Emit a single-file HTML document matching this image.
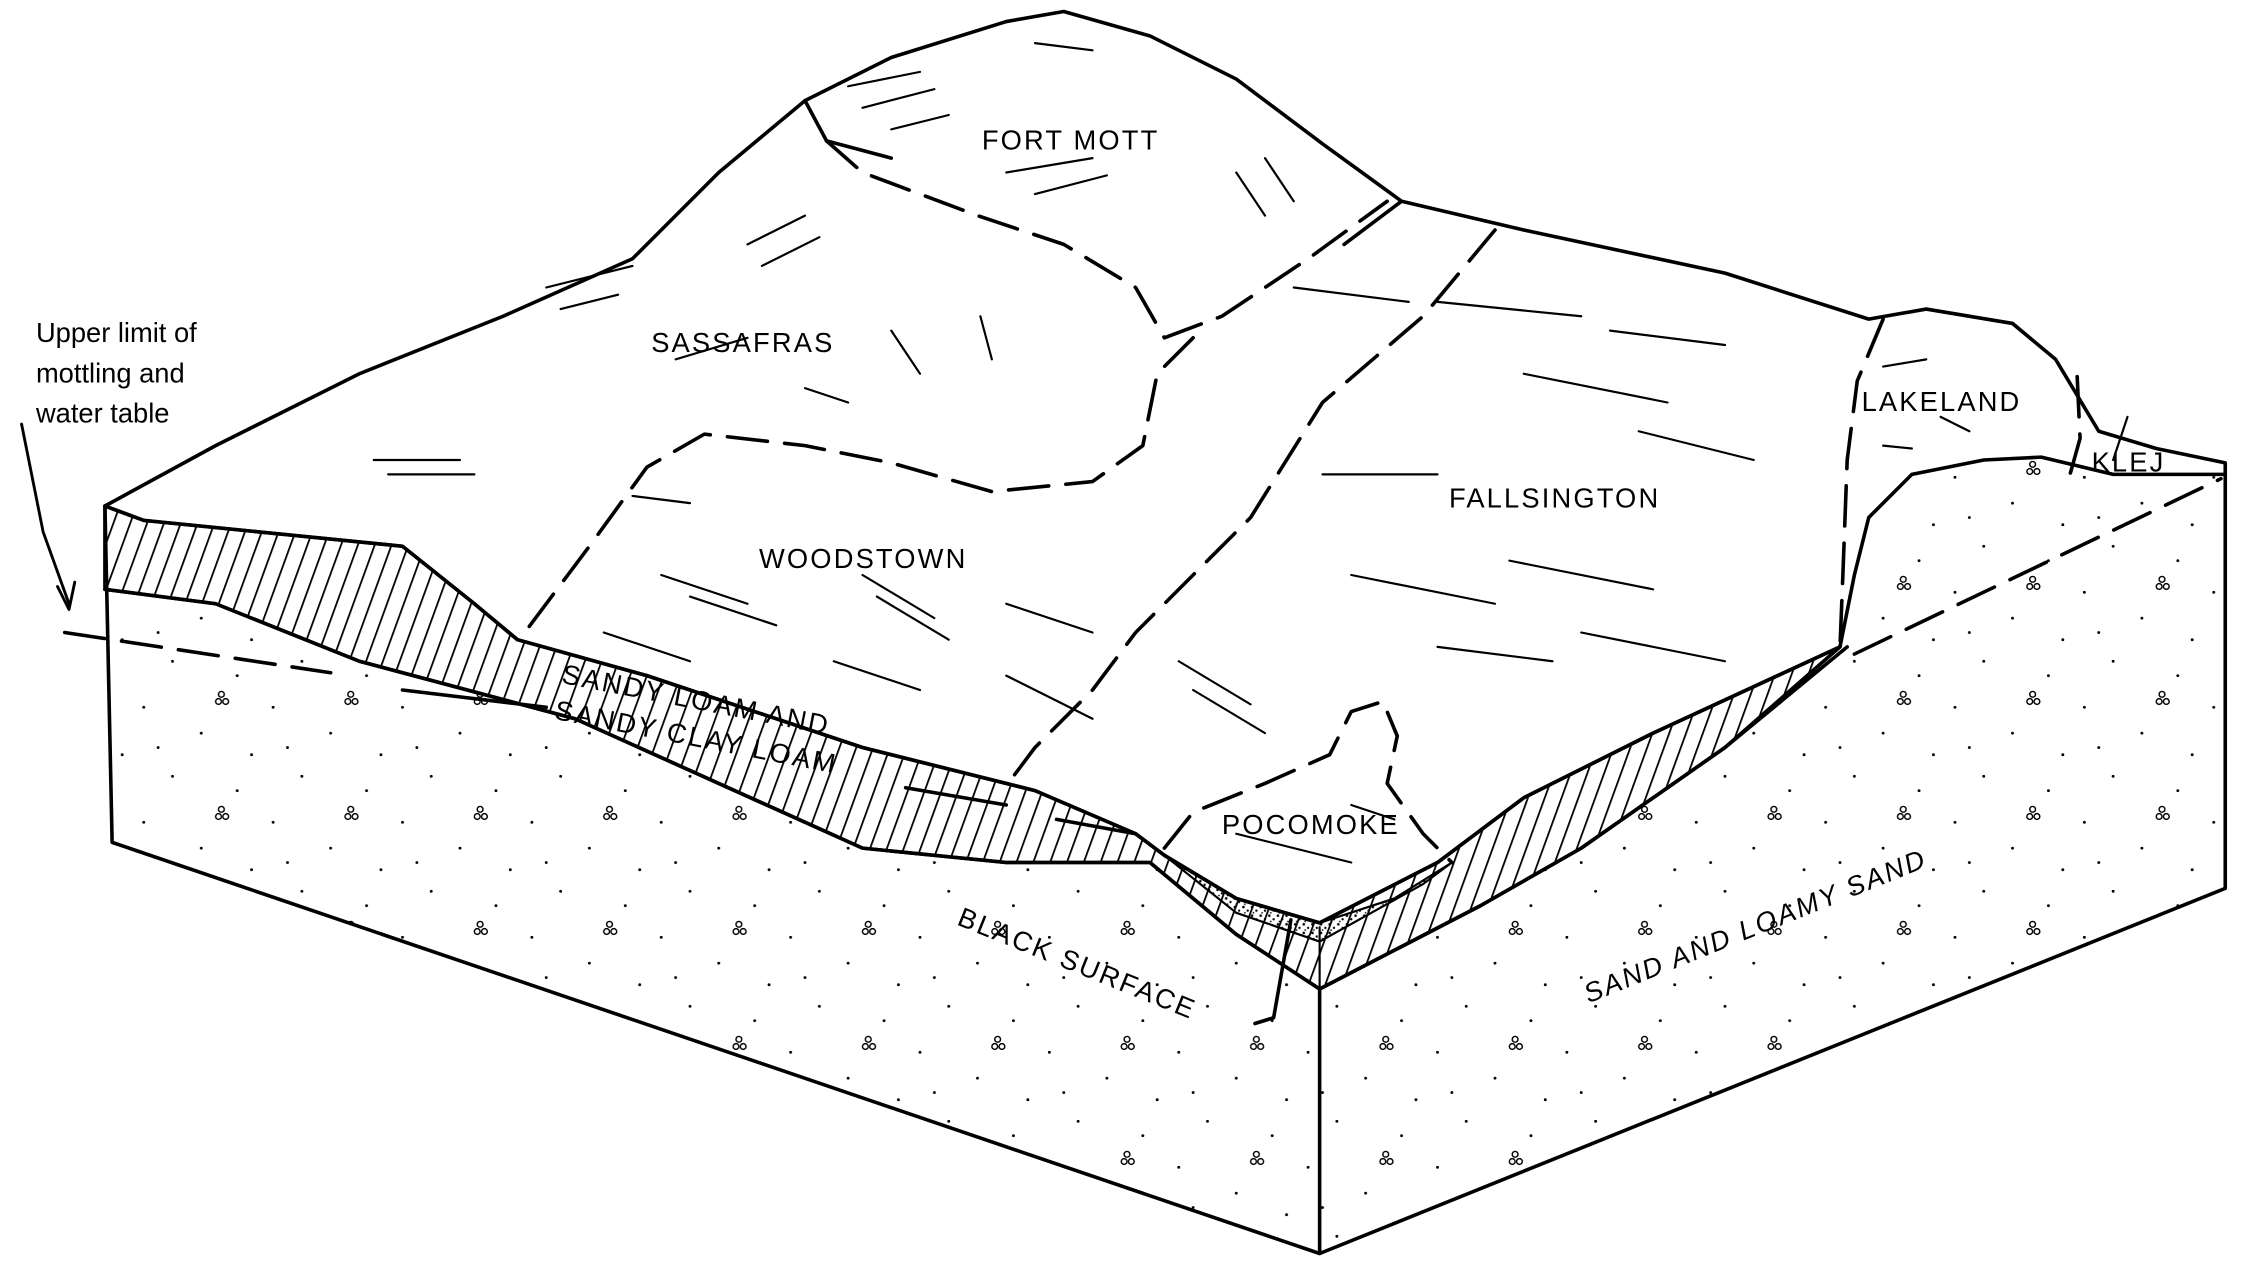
<!DOCTYPE html>
<html><head><meta charset="utf-8"><style>
html,body{margin:0;padding:0;background:#fff;}
svg{display:block;}
text{font-family:"Liberation Sans",sans-serif;fill:#000;}
.lab{font-size:19px;letter-spacing:1.5px;}
.sm{font-size:19px;}
</style></head><body>
<svg width="2254" height="1265" viewBox="0 0 1568 880" preserveAspectRatio="none" xmlns="http://www.w3.org/2000/svg">
<defs>
<pattern id="hatch" width="11" height="11" patternUnits="userSpaceOnUse" patternTransform="rotate(20)">
<line x1="0" y1="0" x2="0" y2="11" stroke="#000" stroke-width="2.5"/>
</pattern>
<pattern id="stip" width="6" height="6" patternUnits="userSpaceOnUse">
<circle cx="1" cy="1" r="0.9" fill="#000"/><circle cx="4" cy="3.5" r="0.8" fill="#000"/><circle cx="2" cy="5" r="0.6" fill="#000"/>
</pattern>
<pattern id="dots" width="90" height="80" patternUnits="userSpaceOnUse">
<circle cx="10" cy="12" r="1" fill="#000"/><circle cx="50" cy="30" r="1" fill="#000"/><circle cx="30" cy="60" r="1" fill="#000"/><circle cx="75" cy="70" r="1" fill="#000"/>
<circle cx="62" cy="8" r="2" fill="none" stroke="#000" stroke-width="1"/><circle cx="67" cy="8" r="2" fill="none" stroke="#000" stroke-width="1"/><circle cx="64" cy="3" r="2" fill="none" stroke="#000" stroke-width="1"/>
<circle cx="20" cy="40" r="1" fill="#000"/><circle cx="85" cy="45" r="1" fill="#000"/>
</pattern>
</defs>
<g stroke="#000" stroke-width="2.5" fill="none" stroke-linejoin="round" stroke-linecap="round">
<!-- left face -->
<path d="M73,352 L78,586 L918,872 L918,688 L860,650 L800,600 L700,600 L600,590 L400,500 L250,460 L150,420 L73,410 Z" fill="url(#dots)" stroke="none"/>
<!-- right face -->
<path d="M918,688 L918,872 L1548,618 L1548,330 L1460,330 L1420,320 L1360,325 L1320,350 L1300,390 L1285,450 L1200,520 L1100,590 L1030,630 Z" fill="url(#dots)" stroke="none"/>
<!-- hatch bands -->
<path d="M73,352 L100,362 L200,372 L280,380 L330,420 L360,445 L450,470 L600,520 L720,550 L790,580 L810,595 L860,625 L918,642 L1000,600 L1060,555 L1150,510 L1280,450 L1200,520 L1100,590 L1030,630 L918,688 L860,650 L800,600 L700,600 L600,590 L400,500 L250,460 L150,420 L73,410 Z" fill="url(#hatch)"/>
<!-- black surface stipple -->
<path d="M810,595 L860,625 L918,642 L970,625 L1010,600 L990,615 L918,655 L860,635 Z" fill="url(#stip)" stroke-width="1.5"/>
<path d="M73,352 L78,586 L918,872 L1548,618 L1548,330"/>
<line x1="918" y1="688" x2="918" y2="872"/>
<path d="M73,410 L150,420 L250,460 L400,500 L600,590 L700,600 L800,600 L860,650 L918,688 L1030,630 L1100,590 L1200,520 L1285,450"/>
<!-- top outline -->
<path d="M73,352 L150,310 L250,260 L350,220 L440,180 L500,120 L560,70 L620,40 L700,15 L740,8 L800,25 L860,55 L920,100 L975,140 L1060,160 L1200,190 L1300,222 L1340,215 L1400,225 L1430,250 L1460,300 L1500,312 L1548,322 L1548,330 M975,140 L935,170"/>
<path d="M73,352 L100,362 L200,372 L280,380 L330,420 L360,445 L450,470 L600,520 L720,550 L790,580 L810,595 L860,625 L918,642 L1000,600 L1060,555 L1150,510 L1280,450 L1290,400 L1300,360 L1330,330 L1380,320 L1420,318 L1470,330 L1548,330"/>
<path d="M560,70 L575,98 L620,110"/>
<!-- dashed boundaries -->
<g stroke-dasharray="28,12">
<path d="M575,98 L600,120 L680,150 L740,170 L790,200 L810,235 L850,220 L910,180 L965,140"/>
<path d="M830,235 L805,260 L795,310 L760,335 L690,342 L620,322 L560,310 L490,302 L450,325 L410,380 L365,440"/>
<path d="M1040,160 L990,220 L920,280 L870,360 L820,410 L790,440 L760,480 L720,520 L705,540"/>
<path d="M810,590 L830,565 L880,545 L925,525 L940,495 L962,488 L972,512 L965,545 L990,580 L1010,600"/>
<path d="M1310,222 L1292,265 L1285,320 L1282,400 L1280,450"/>
<path d="M1445,262 L1447,305 L1440,330"/>
<path d="M45,440 L230,468"/>
<path d="M1290,455 L1545,333"/>
</g>
<!-- leader lines -->
<path d="M15,295 L30,370 L48,420" stroke-width="2"/>
<path d="M40,408 L48,424 L52,405" stroke-width="2"/>
<path d="M280,480 L380,492 M630,548 L700,560 M735,570 L790,580 M898,640 L886,708 L873,712" stroke-width="2.5"/>
<path d="M918,688 L918,645" stroke-width="1.5"/>
<!-- texture strokes -->
<g stroke-width="1.5">
<path d="M590,60 L640,50 M600,75 L650,62 M620,90 L660,80 M720,30 L760,35 M700,120 L760,110 M720,135 L770,122 M860,120 L880,150 M880,110 L900,140"/>
<path d="M380,200 L440,185 M390,215 L430,205 M520,170 L560,150 M530,185 L570,165 M470,250 L520,235 M620,230 L640,260 M682,220 L690,250 M560,270 L590,280"/>
<path d="M260,320 L320,320 M270,330 L330,330 M440,345 L480,350 M460,400 L520,420 M480,415 L540,435 M600,400 L650,430 M610,415 L660,445 M700,420 L760,440 M420,440 L480,460"/>
<path d="M900,200 L980,210 M1000,210 L1100,220 M1120,230 L1200,240 M1060,260 L1160,280 M920,330 L1000,330 M940,400 L1040,420 M1050,390 L1150,410 M1100,440 L1200,460 M1140,300 L1220,320 M1000,450 L1080,460"/>
<path d="M820,460 L870,490 M830,480 L880,510 M700,470 L760,500 M580,460 L640,480 M860,580 L940,600 M940,560 L970,570"/>
<path d="M1310,255 L1340,250 M1310,310 L1330,312 M1480,290 L1470,320 M1350,290 L1370,300"/>
</g>
</g>
<!-- labels -->
<text class="lab" x="683" y="104">FORT MOTT</text>
<text class="lab" x="453" y="245">SASSAFRAS</text>
<text class="lab" x="528" y="395">WOODSTOWN</text>
<text class="lab" x="1008" y="353">FALLSINGTON</text>
<text class="lab" x="1295" y="286">LAKELAND</text>
<text class="lab" x="1455" y="328">KLEJ</text>
<text class="lab" x="850" y="580">POCOMOKE</text>
<text class="lab" x="390" y="475" transform="rotate(11 390 475)">SANDY LOAM AND</text>
<text class="lab" x="385" y="500" transform="rotate(11 385 500)">SANDY CLAY LOAM</text>
<text class="lab" x="665" y="643" transform="rotate(22 665 643)">BLACK SURFACE</text>
<text class="lab" x="1105" y="698" transform="rotate(-22 1105 698)" style="font-style:italic">SAND AND LOAMY SAND</text>
<text class="sm" x="25" y="238">Upper limit of</text>
<text class="sm" x="25" y="266">mottling and</text>
<text class="sm" x="25" y="294">water table</text>
</svg>
</body></html>
